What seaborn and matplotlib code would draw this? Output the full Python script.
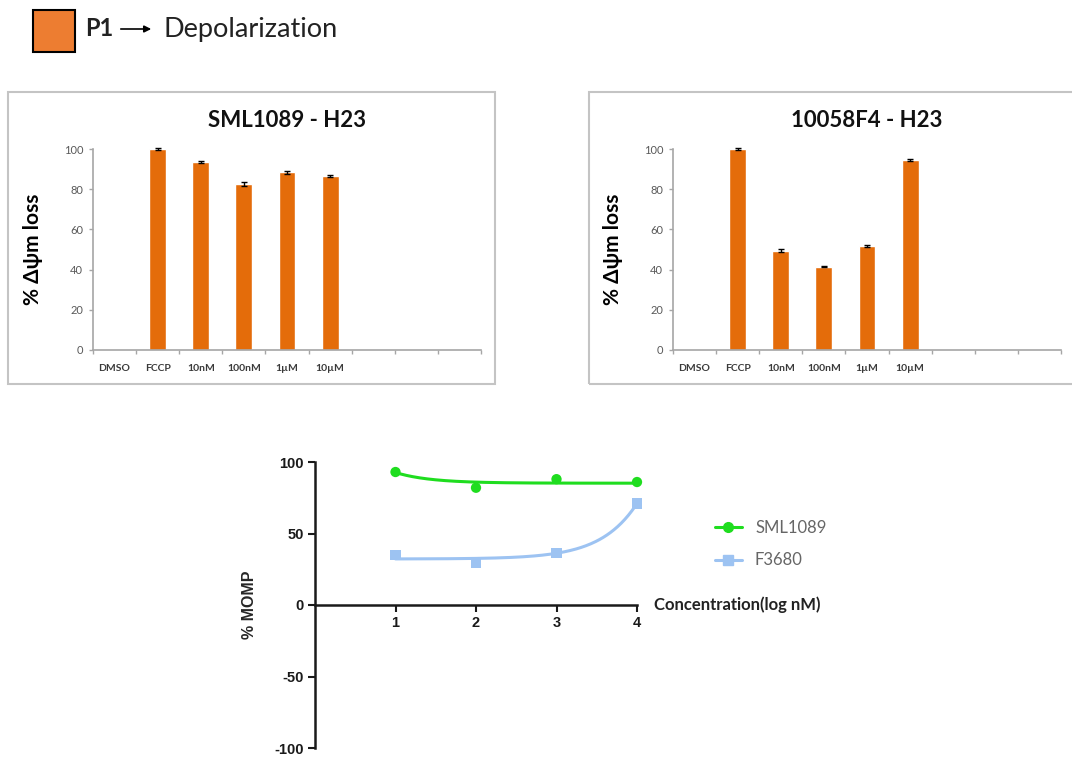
import numpy as np
import matplotlib
matplotlib.use('Agg')
import matplotlib.pyplot as plt
from matplotlib.patches import Rectangle, FancyArrowPatch
from matplotlib.lines import Line2D
import pandas as pd
import seaborn as sns

# bar panels (% delta psi m loss)
categories = ['DMSO', 'FCCP', '10nM', '100nM', '1\u00b5M', '10\u00b5M']
empty_slots = [' ', '  ', '   ']
sml_bar_values = [0, 100, 93.5, 82.5, 88.5, 86.5]
sml_bar_errors = [0, 0.4, 0.5, 1.0, 0.7, 0.5]
f4_bar_values = [0, 100, 49.5, 41.5, 51.5, 94.5]
f4_bar_errors = [0, 0.3, 0.5, 0.4, 0.5, 0.6]
panel_titles = ['SML1089 - H23', '10058F4 - H23']

# MOMP curves
log_conc = [1, 2, 3, 4]
sml_momp = [93, 82, 88, 86]
f3680_momp = [35, 29.5, 36.5, 71]

bar_color = '#E46C0A'
green = '#1FDD1F'
blue = '#9DC3F2'

sns.set_style('white')
plt.rcParams['font.family'] = ['Lato', 'DejaVu Sans']
plt.rcParams['axes.unicode_minus'] = False

fig = plt.figure(figsize=(10.72, 7.58), dpi=100)
W, H = 1072, 758


def fig_rect(x0, y0, x1, y1):
    return [x0 / W, 1 - y1 / H, (x1 - x0) / W, (y1 - y0) / H]


# header
fig.patches.append(Rectangle((33 / W, 1 - 52 / H), 42 / W, 42 / H, transform=fig.transFigure,
                             facecolor='#ED7D31', edgecolor='black', lw=1.5))
fig.text(85 / W, 1 - 29 / H, 'P1', fontsize=17, fontweight='bold', va='center', color='#222222')
fig.add_artist(FancyArrowPatch((118 / W, 1 - 29 / H), (154 / W, 1 - 29 / H),
                               transform=fig.transFigure, arrowstyle='-|>',
                               mutation_scale=10, color='black', lw=1.2))
fig.text(163 / W, 1 - 29 / H, 'Depolarization', fontsize=19.5, va='center', color='#222222')

# frames around the two bar panels
for x0, x1 in [(8, 495), (589, 1080)]:
    fig.patches.append(Rectangle((x0 / W, 1 - 384 / H), (x1 - x0) / W, 292 / H,
                                 transform=fig.transFigure, facecolor='none',
                                 edgecolor='#C4C4C4', lw=1.5))

order = categories + empty_slots
panels = [(fig_rect(93, 149, 481, 350), sml_bar_values, sml_bar_errors, panel_titles[0]),
          (fig_rect(673, 149, 1061, 350), f4_bar_values, f4_bar_errors, panel_titles[1])]

for rect, vals, errs, title in panels:
    ax = fig.add_axes(rect)
    df = pd.DataFrame({'cat': categories, 'val': vals})
    sns.barplot(data=df, x='cat', y='val', order=order, color=bar_color,
                width=0.39, saturation=1, ax=ax)
    ax.errorbar(np.arange(len(vals))[1:], vals[1:], yerr=errs[1:], fmt='none',
                ecolor='black', elinewidth=1, capsize=2.5, capthick=1, clip_on=False)
    ax.set_xlim(-0.5, len(order) - 0.5)
    ax.set_ylim(0, 100)
    ax.set_yticks([0, 20, 40, 60, 80, 100])
    ax.set_xticks(np.arange(-0.5, len(order), 1))
    ax.set_xticklabels([])
    ax.set_xticks(range(len(order)), minor=True)
    ax.set_xticklabels(order, minor=True, fontsize=7.5, fontweight='bold', color='#3A3A3A')
    ax.tick_params(axis='x', which='major', bottom=True, length=3, width=1,
                   color='#A6A6A6', direction='out')
    ax.tick_params(axis='x', which='minor', bottom=True, length=0, pad=10)
    ax.tick_params(axis='y', left=True, length=3, width=1, color='#A6A6A6', direction='out',
                   labelsize=8, labelcolor='#595959', pad=4)
    for s in ['top', 'right']:
        ax.spines[s].set_visible(False)
    for s in ['left', 'bottom']:
        ax.spines[s].set_color('#A6A6A6')
        ax.spines[s].set_linewidth(1.2)
    ax.set_xlabel('')
    ax.set_ylabel('% \u0394\u03c8m loss', fontsize=15, fontweight='bold', color='black',
                  family=['Lato', 'DejaVu Sans'])
    ax.yaxis.set_label_coords(-0.13, 0.5)
    ax.set_title(title, fontsize=16, fontweight='bold', color='#111111', pad=16)


def sigmoid_fit(x, y, xs):
    # least squares fit of a standard-slope dose response curve
    x = np.asarray(x, float)
    y = np.asarray(y, float)
    best = None
    for c in np.linspace(-2, 8, 4001):
        s = 1 / (1 + 10 ** (c - x))
        A = np.column_stack([1 - s, s])
        coef = np.linalg.lstsq(A, y, rcond=None)[0]
        sse = ((A @ coef - y) ** 2).sum()
        if best is None or sse < best[0]:
            best = (sse, c, coef)
    _, c, (bot, top) = best
    s = 1 / (1 + 10 ** (c - xs))
    return bot * (1 - s) + top * s


ax = fig.add_axes(fig_rect(315, 462, 637, 748))
xs = np.linspace(1, 4, 200)
for yv, col, mk, ms in [(sml_momp, green, 'o', 55), (f3680_momp, blue, 's', 55)]:
    sns.lineplot(x=xs, y=sigmoid_fit(log_conc, yv, xs), color=col, lw=2.2, ax=ax)
    sns.scatterplot(x=log_conc, y=yv, color=col, marker=mk, s=ms, edgecolor='none',
                    ax=ax, zorder=5, clip_on=False)
ax.set_xlim(0, 4)
ax.set_ylim(-100, 100)
ax.set_xticks([1, 2, 3, 4])
ax.set_yticks([-100, -50, 0, 50, 100])
ax.spines['top'].set_visible(False)
ax.spines['right'].set_visible(False)
ax.spines['bottom'].set_position(('data', 0))
for s in ['left', 'bottom']:
    ax.spines[s].set_linewidth(1.8)
    ax.spines[s].set_color('#1A1A1A')
for lab in ax.get_xticklabels() + ax.get_yticklabels():
    lab.set_fontweight('bold')
    lab.set_family(['Liberation Sans', 'DejaVu Sans'])
ax.tick_params(axis='both', bottom=True, left=True, length=5, width=1.5, color='#1A1A1A',
               labelsize=10.5, labelcolor='#1A1A1A', direction='out', pad=3)
ax.set_ylabel('% MOMP', fontsize=11.5, fontweight='bold', family=['Liberation Sans', 'DejaVu Sans'])
ax.yaxis.set_label_coords(-0.18, 0.5)
ax.set_xlabel('')
ax.text(4.21, 0, 'Concentration(log nM)', fontsize=12, fontweight='bold', va='center',
        ha='left', color='#222222')
handles = [Line2D([0], [0], color=green, lw=2.2, marker='o', markersize=7),
           Line2D([0], [0], color=blue, lw=2.2, marker='s', markersize=6.5)]
ax.legend(handles, ['SML1089', 'F3680'], loc='center left', bbox_to_anchor=(700 / W, 1 - 544 / H),
          bbox_transform=fig.transFigure, frameon=False, fontsize=12, labelcolor='#666666',
          handlelength=1.6, handletextpad=0.8, labelspacing=1.0)

fig.savefig('out.png', dpi=100)
